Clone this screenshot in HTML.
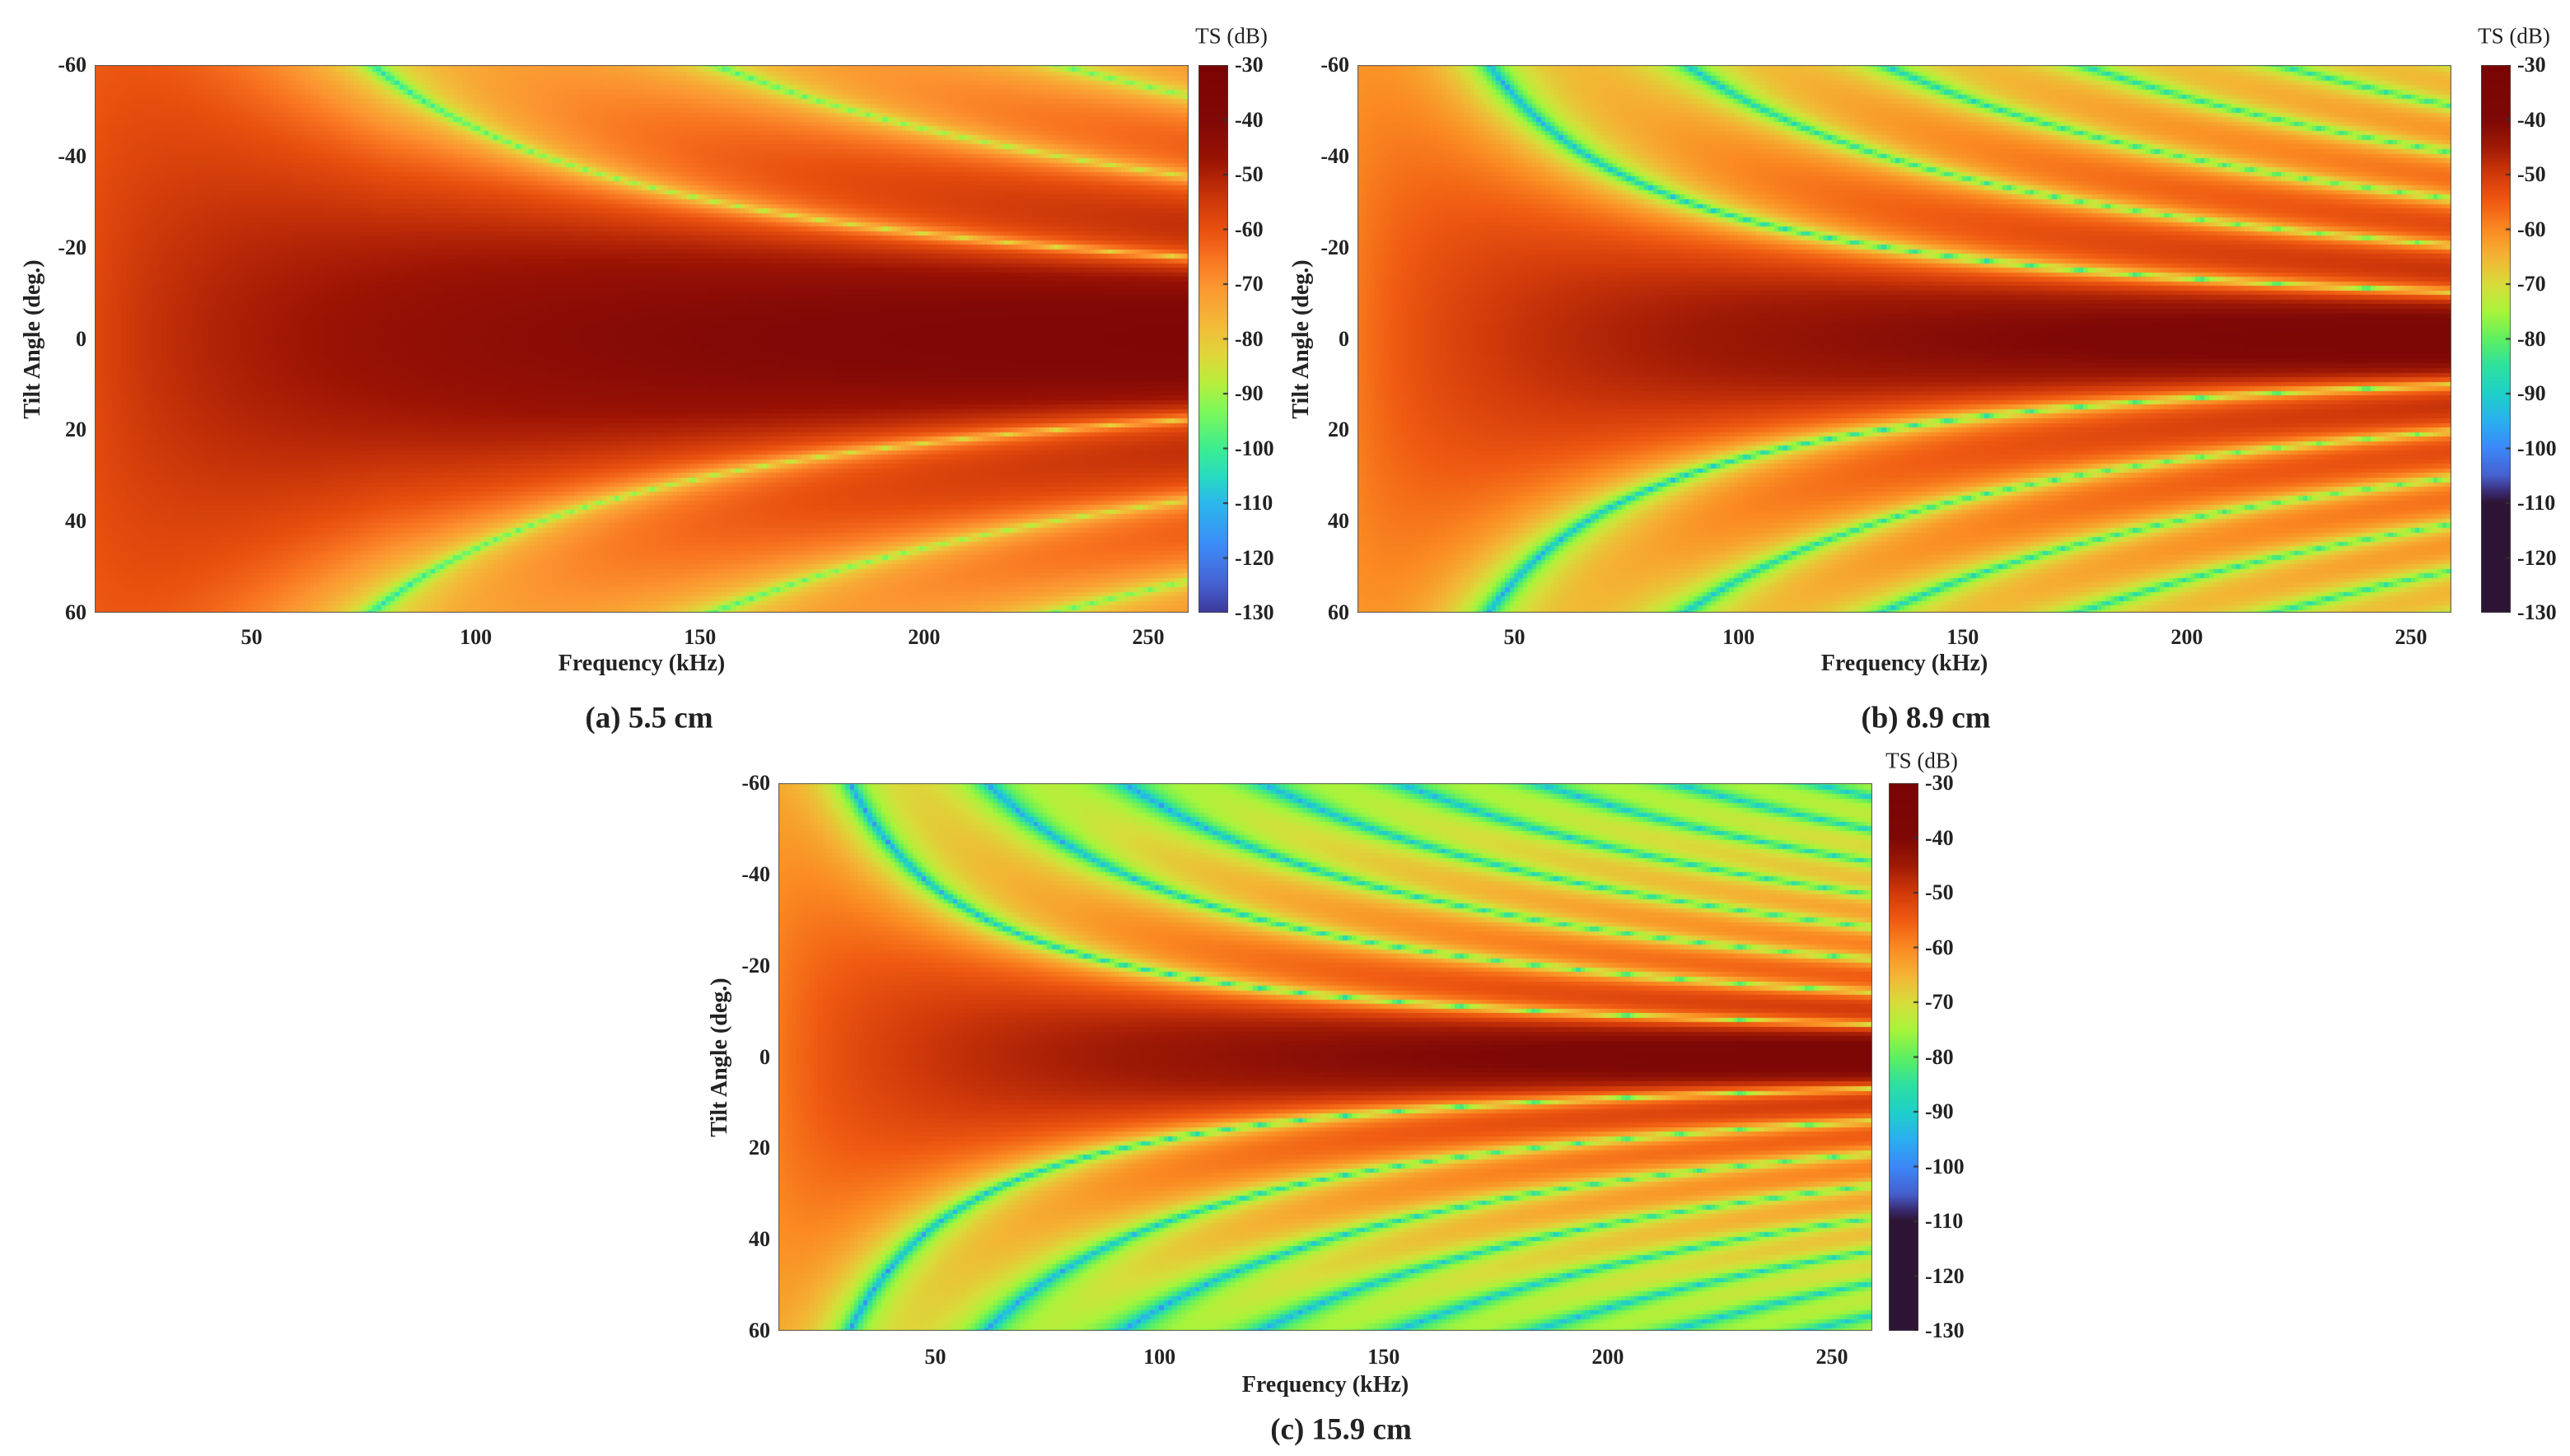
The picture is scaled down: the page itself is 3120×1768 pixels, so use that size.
<!DOCTYPE html>
<html><head><meta charset="utf-8">
<style>
body{margin:0;background:#fff;width:3120px;height:1768px;position:relative;overflow:hidden;font-family:"Liberation Serif",serif;color:#222}
.tick{position:absolute;font-weight:bold;font-size:26px;line-height:26px;white-space:nowrap}
.ylab{position:absolute;font-weight:bold;font-size:28px;white-space:nowrap;transform:translate(-50%,-50%) rotate(-90deg)}
.xlab{position:absolute;font-weight:bold;font-size:28px;white-space:nowrap;transform:translate(-50%,-50%)}
.title{position:absolute;font-weight:bold;font-size:37px;white-space:nowrap;transform:translate(-50%,-50%)}
.cbt{position:absolute;font-size:27px;white-space:nowrap;transform:translate(-50%,-50%)}
canvas{position:absolute}
</style></head>
<body>
<div id="root"></div>
<script>
// ---- data ----
const freqs = []; for (let f = 15; f < 259; f++) freqs.push(f);          // kHz grid
const angles = []; for (let a = -60; a <= 60; a++) angles.push(a);       // deg grid
const lengthsCm = [5.5, 8.9, 15.9];
const nullSpacing = [80, 46, 32];      // kHz·rad between nulls
const sidelobeGain = [2, 4, 1];        // dB
const angularLoss = [22, 12, 16];      // dB
const panelLabels = ['(a) 5.5 cm', '(b) 8.9 cm', '(c) 15.9 cm'];
const xTicks = [50, 100, 150, 200, 250];
const yTicks = [-60, -40, -20, 0, 20, 40, 60];
const cbTicks = [-30, -40, -50, -60, -70, -80, -90, -100, -110, -120, -130];
const F0 = 15, F1 = 259, A0 = -60, A1 = 60, V0 = -30, V1 = -130;

const stopsA = [[-30,'#7a0403'],[-40,'#800806'],[-47,'#9a1204'],[-55,'#d03a0a'],[-60,'#e8500e'],[-65,'#f87220'],[-70,'#fc9430'],[-77,'#f4b838'],[-83,'#e0d63a'],[-88,'#b8ee3c'],[-93,'#80f858'],[-100,'#3cee90'],[-105,'#28dcc0'],[-110,'#2ab8ec'],[-118,'#3c8af8'],[-125,'#4660d0'],[-130,'#3c3a9c']];
const stopsB = [[-30,'#7a0403'],[-40,'#7e0806'],[-45,'#a01a05'],[-50,'#d23a0a'],[-55,'#f05b12'],[-60,'#fb8a22'],[-65,'#f4b434'],[-70,'#d8dc3a'],[-75,'#a8f43a'],[-80,'#5ef060'],[-85,'#2ee0a0'],[-90,'#1ed0c8'],[-95,'#2ab0f0'],[-100,'#3c88f8'],[-105,'#4660d0'],[-108,'#3a2a70'],[-110,'#2e1434'],[-130,'#2e1434']];

const panels = [
  {left:115, top:79, w:1328, h:665, cbx:1455, stops:stopsA, ylx:40, tsY:44, tickY:774, labY:806, titX:788, titY:872},
  {left:1648, top:79, w:1328, h:665, cbx:3012, stops:stopsB, ylx:1580, tsY:44, tickY:774, labY:806, titX:2338, titY:872},
  {left:945, top:951, w:1328, h:665, cbx:2293, stops:stopsB, ylx:874, tsY:924, tickY:1648, labY:1682, titX:1628, titY:1736}
];

function hex(c){return [parseInt(c.substr(1,2),16),parseInt(c.substr(3,2),16),parseInt(c.substr(5,2),16)];}
function cmap(stops,v){
  if (v >= stops[0][0]) return stops[0][1];
  for (let i=1;i<stops.length;i++){
    if (v >= stops[i][0]){
      const a=hex(stops[i-1][1]), b=hex(stops[i][1]);
      const t=(stops[i-1][0]-v)/(stops[i-1][0]-stops[i][0]);
      return 'rgb('+a.map((x,k)=>Math.round(x+(b[k]-x)*t)).join(',')+')';
    }
  }
  return stops[stops.length-1][1];
}
function ts(p, f, a){
  const th = a*Math.PI/180;
  const x = Math.PI*f*Math.abs(th)/nullSpacing[p];
  const s = x<1e-6 ? 1 : Math.abs(Math.sin(x)/x);
  const peak = -58 + 17*Math.log10(f/15);
  const lobe = x > Math.PI ? sidelobeGain[p]*Math.min(1,(x-Math.PI)/Math.PI) : 0;
  const extra = -angularLoss[p]*Math.pow(Math.sin(th),2)*Math.min(1,f/80);
  return peak + 20*Math.log10(s+0.006) + lobe + extra;
}
const root = document.getElementById('root');
function mk(tag, cls, name, txt){
  const e=document.createElement(tag); if(cls) e.className=cls;
  
  
  if(txt!==undefined) e.textContent=txt; root.appendChild(e); return e;
}
panels.forEach((P,p)=>{
  const xs = f => P.left + (f-F0)/(F1-F0)*P.w;
  const ys = a => P.top + (a-A0)/(A1-A0)*P.h;
  const cv = mk('canvas','', 'heatmap-'+'abc'[p]);
  cv.width=P.w; cv.height=P.h; cv.style.left=P.left+'px'; cv.style.top=P.top+'px';
  const g=cv.getContext('2d');
  const da=(P.h/(angles.length-1)), df=(P.w/(F1-F0));
  freqs.forEach(f=>{
    angles.forEach(a=>{
      g.fillStyle=cmap(P.stops, ts(p,f,a));
      const x0=xs(f)-P.left, y0=ys(a)-P.top-da/2;
      g.fillRect(Math.floor(x0),Math.floor(y0),Math.ceil(df)+1,Math.ceil(da)+1);
    });
  });
  g.strokeStyle='#555'; g.lineWidth=2; g.strokeRect(0,0,P.w,P.h);
  xTicks.forEach(t=>{
    const e=mk('div','tick','x-tick-label',String(t));
    e.style.left=(xs(t)-30)+'px'; e.style.width='60px'; e.style.textAlign='center'; e.style.top=(P.tickY-13)+'px';
  });
  yTicks.forEach(t=>{
    const e=mk('div','tick','y-tick-label',String(t));
    e.style.left=(P.left-110)+'px'; e.style.width='100px'; e.style.textAlign='right'; e.style.top=(ys(t)-13)+'px';
  });
  const xl=mk('div','xlab','x-axis-title','Frequency (kHz)'); xl.style.left=(P.left+P.w/2)+'px'; xl.style.top=P.labY+'px';
  const yl=mk('div','ylab','y-axis-title','Tilt Angle (deg.)'); yl.style.left=P.ylx+'px'; yl.style.top=(P.top+P.h/2)+'px';
  const ti=mk('div','title','panel-title',panelLabels[p]); ti.style.left=P.titX+'px'; ti.style.top=P.titY+'px';
  const cb=mk('canvas','', 'colorbar-'+'abc'[p]);
  cb.width=36; cb.height=P.h; cb.style.left=P.cbx+'px'; cb.style.top=P.top+'px';
  const c=cb.getContext('2d');
  for(let y=0;y<P.h;y++){ c.fillStyle=cmap(P.stops, V0+(V1-V0)*y/(P.h-1)); c.fillRect(0,y,36,1); }
  c.strokeStyle='#444'; c.lineWidth=1.5; c.strokeRect(0,0,36,P.h);
  const cys = v => P.top + (V0-v)/(V0-V1)*P.h;
  cbTicks.forEach(v=>{
    c.fillStyle='#333'; c.fillRect(30,cys(v)-P.top-1,6,2);
    const e=mk('div','tick','colorbar-tick-label',String(v));
    e.style.left=(P.cbx+44)+'px'; e.style.top=(cys(v)-13)+'px';
  });
  const tsl=mk('div','cbt','colorbar-title','TS (dB)'); tsl.style.left=(P.cbx+40)+'px'; tsl.style.top=P.tsY+'px';
});
</script>
</body></html>
